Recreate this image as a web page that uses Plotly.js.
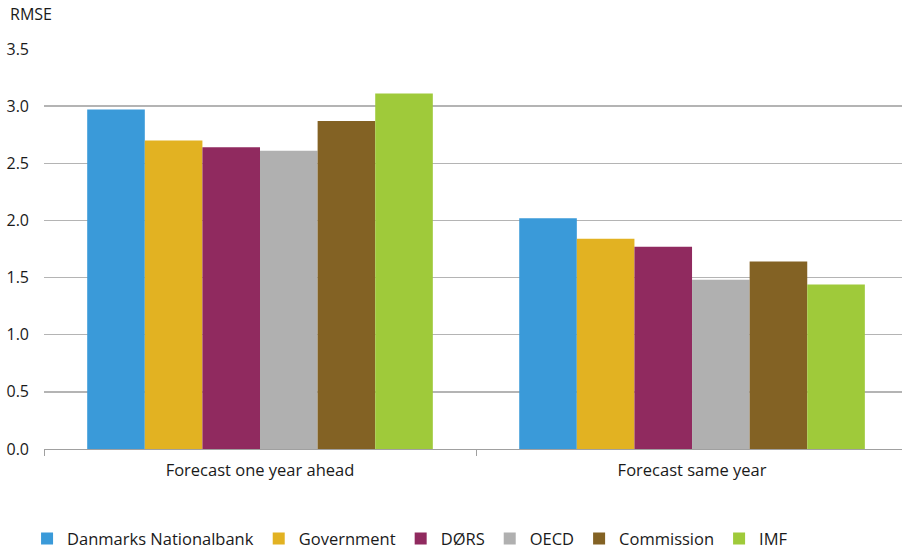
<!DOCTYPE html>
<html><head><meta charset="utf-8">
<script src="https://cdn.plot.ly/plotly-3.0.1.min.js"></script>
<style>html,body{margin:0;padding:0;background:#fff}#c{width:902px;height:551px}</style>
</head><body><div id="c"></div>
<script>
const categories = ["Forecast one year ahead", "Forecast same year"];
const seriesNames = ["Danmarks Nationalbank", "Government", "DØRS", "OECD", "Commission", "IMF"];
const nationalbank = [2.97, 2.02];
const government = [2.70, 1.84];
const doers = [2.64, 1.77];
const oecd = [2.61, 1.48];
const commission = [2.87, 1.64];
const imf = [3.11, 1.44];
const yTicks = [0, 0.5, 1.0, 1.5, 2.0, 2.5, 3.0, 3.5];
const yTickText = ["0.0", "0.5", "1.0", "1.5", "2.0", "2.5", "3.0", "3.5"];
const colors = ["#3a9ad9", "#e2b222", "#902a5f", "#b0b0b0", "#836224", "#9fca3a"];

const values = [nationalbank, government, doers, oecd, commission, imf];
const font = "Open Sans, Noto Sans, sans-serif";
const traces = values.map((v, i) => ({
  type: "bar", name: seriesNames[i], x: categories, y: v,
  marker: {color: colors[i], line: {width: 0}}
}));
const layout = {
  width: 902, height: 551,
  margin: {l: 44, r: 0, t: 49, b: 102, autoexpand: false},
  paper_bgcolor: "#fff", plot_bgcolor: "#fff",
  barmode: "group", bargap: 0.2, bargroupgap: 0,
  font: {family: font, size: 16, color: "#1a1a1a"},
  xaxis: {
    type: "category", range: [-0.5, 1.486], showgrid: false, showline: true,
    linecolor: "#a0a0a0", linewidth: 1,
    tickson: "boundaries", ticks: "outside", ticklen: 6, tickcolor: "#a0a0a0",
    ticklabelstandoff: 6,
    tickfont: {family: font, size: 16.5, color: "#1a1a1a"}, zeroline: false
  },
  yaxis: {
    range: [0, 3.5], tickvals: yTicks, ticktext: yTickText,
    showgrid: true, gridcolor: "#b4b4b4", gridwidth: 1.4, zeroline: false,
    showline: false, ticks: "", ticklabelstandoff: 14,
    tickfont: {family: font, size: 16, color: "#1a1a1a"}
  },
  showlegend: true,
  legend: {orientation: "h", xref: "container", yref: "container", x: 0.03, xanchor: "left",
    y: 0.022, yanchor: "middle",
    font: {family: font, size: 16.5, color: "#1a1a1a"}, itemwidth: 30, tracegroupgap: 0},
  annotations: [{text: "RMSE", xref: "paper", yref: "paper", x: -0.042, y: 1.0, yshift: 35,
    xanchor: "left", yanchor: "middle", showarrow: false, font: {family: font, size: 16, color: "#1a1a1a"}}]
};
Plotly.newPlot("c", traces, layout, {displayModeBar: false, staticPlot: true});
</script></body></html>
